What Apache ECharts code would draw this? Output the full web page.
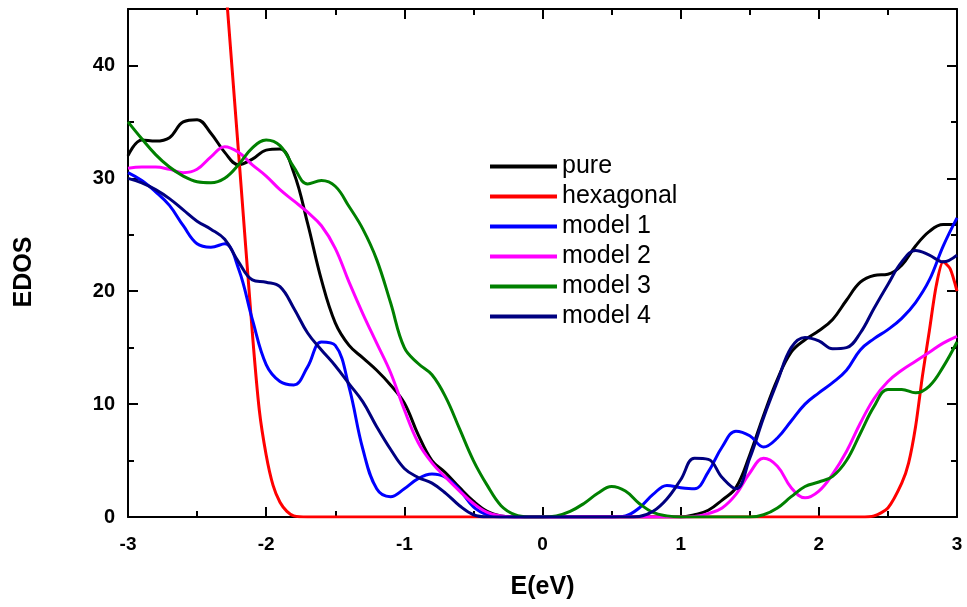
<!DOCTYPE html>
<html>
<head>
<meta charset="utf-8">
<script src="https://cdn.jsdelivr.net/npm/echarts@6/dist/echarts.min.js"></script>
<style>
  html, body { margin: 0; padding: 0; background: #fff; }
  #main { width: 967px; height: 607px; }
</style>
</head>
<body>
<div id="main"></div>
<script>
// energy grid (eV) shared by most curves
var energy = [];
for (var i = -30; i <= 30; i++) energy.push(i / 10);

var pureDos = [32.0,33.4,33.3,33.6,35.0,35.2,34.0,32.3,31.2,31.7,32.5,32.6,30.5,26.0,21.0,17.2,15.2,14.1,13.0,11.7,10.1,7.3,5.0,3.9,2.6,1.4,0.5,0.1,0,0,
  0,0,0,0,0,0,0,0,0,0,0,0.2,0.6,1.5,2.6,5.5,9.0,12.2,14.6,15.7,16.5,17.5,19.2,20.8,21.4,21.5,22.3,24.0,25.3,25.9,25.9];
var model1Dos = [30.5,29.8,28.8,27.6,25.8,24.2,23.9,24.2,22.0,17.5,13.5,12.0,11.7,13.3,15.5,15.2,11.5,6.0,2.5,1.8,2.5,3.4,3.8,3.5,2.4,0.9,0.2,0,0,0,
  0,0,0,0,0,0,0.1,0.8,2.0,2.8,2.6,2.5,4.0,6.2,7.6,7.2,6.2,7.0,8.5,10.0,11.0,11.9,13.0,14.8,15.8,16.6,17.6,19.0,21.0,24.0,26.5];
var model2Dos = [30.9,31.0,31.0,30.8,30.5,30.8,31.9,32.8,32.3,31.2,30.2,29.0,28.0,27.0,25.8,23.8,20.8,18.0,15.4,12.8,9.5,6.6,4.8,3.5,2.3,1.2,0.4,0.1,0,0,
  0,0,0,0,0,0,0,0,0,0,0,0.05,0.3,0.8,2.0,3.9,5.2,4.5,2.6,1.7,2.3,3.8,5.8,8.3,10.5,12.0,13.0,13.8,14.6,15.4,16.0];
var model3Dos = [35.0,33.5,32.1,31.0,30.2,29.7,29.6,30.0,31.2,32.7,33.4,32.9,31.0,29.5,29.8,29.3,27.5,25.5,22.8,19.0,15.0,13.6,12.6,10.6,7.8,5.0,2.8,1.0,0.2,0,
  0,0.1,0.5,1.2,2.1,2.7,2.3,1.2,0.4,0.1,0,0,0,0,0,0,0.2,0.8,1.8,2.7,3.1,3.6,5.0,7.4,9.8,11.3,11.3,11.0,11.6,13.3,15.5];
var model4Dos = [30.0,29.6,29.0,28.2,27.2,26.2,25.5,24.6,22.6,21.0,20.8,20.4,18.5,16.3,14.8,13.4,11.8,10.2,8.0,6.0,4.3,3.5,3.0,2.1,1.0,0.2,0,0,0,0,
  0,0,0,0,0,0,0,0.05,0.5,1.6,3.3,5.2,5.1,3.5,2.5,5.2,8.8,12.0,15.0,15.9,15.6,14.9,15.0,16.3,18.5,20.6,22.6,23.6,23.2,22.6,23.2];

// hexagonal curve has its own finer grid
var hexEnergy = [-3.0,-2.30,-2.20,-2.10,-2.05,-2.00,-1.95,-1.90,-1.85,-1.80,-1.70,0,2.3,2.4,2.5,2.6,2.65,2.7,2.75,2.8,2.85,2.9,2.95,3.0];
var hexDos    = [null,48.2,32.3,16.3,9.5,5.5,2.8,1.3,0.5,0.1,0,0,0,0.1,0.8,3.0,4.8,8.0,12.5,16.5,20.5,22.6,22.0,20.0];

var xTicks = [-3,-2,-1,0,1,2,3];
var yTicks = [0,10,20,30,40];

function pairs(xs, ys) {
  var out = [];
  for (var k = 0; k < xs.length; k++) {
    if (ys[k] !== null) out.push([xs[k], ys[k]]);
  }
  return out;
}

function mkLine(name, color, data, smooth) {
  return {
    name: name,
    type: 'line',
    data: data,
    showSymbol: false,
    symbol: 'none',
    smooth: smooth,
    lineStyle: { color: color, width: 3 },
    itemStyle: { color: color },
    z: 3
  };
}

var chart = echarts.init(document.getElementById('main'));
var font = '"Liberation Sans", Arial, sans-serif';

var axisCommon = {
  axisLine: { show: true, onZero: false, lineStyle: { color: '#000', width: 2 } },
  axisTick: { show: true, inside: true, length: 10, lineStyle: { color: '#000', width: 2 } },
  minorTick: { show: true, splitNumber: 2, length: 6, lineStyle: { color: '#000', width: 2 } },
  splitLine: { show: false }
};

chart.setOption({
  backgroundColor: '#fff',
  animation: false,
  grid: { left: 128, right: 10, top: 9, bottom: 90, containLabel: false },
  legend: {
    orient: 'vertical',
    left: 490,
    top: 154,
    padding: 0,
    icon: 'rect',
    itemWidth: 67,
    itemHeight: 4,
    itemGap: 5,
    textStyle: { fontFamily: font, fontSize: 25, color: '#000' },
    data: ['pure', 'hexagonal', 'model 1', 'model 2', 'model 3', 'model 4']
  },
  xAxis: [
    Object.assign({}, axisCommon, {
      type: 'value', min: -3, max: 3, interval: 1, position: 'bottom',
      name: 'E(eV)', nameLocation: 'middle', nameGap: 58,
      nameTextStyle: { fontFamily: font, fontSize: 25, fontWeight: 'bold', color: '#000' },
      axisLabel: {
        fontFamily: font, fontSize: 19, fontWeight: 'bold', color: '#000', margin: 18,
        formatter: function (v) { return xTicks.indexOf(v) >= 0 ? String(v) : ''; }
      }
    }),
    Object.assign({}, axisCommon, {
      type: 'value', min: -3, max: 3, interval: 1, position: 'top',
      axisLabel: { show: false }
    })
  ],
  yAxis: [
    Object.assign({}, axisCommon, {
      type: 'value', min: 0, max: 45, interval: 10, position: 'left',
      name: 'EDOS', nameLocation: 'middle', nameGap: 91,
      nameTextStyle: { fontFamily: font, fontSize: 25, fontWeight: 'bold', color: '#000', padding: [0, 18, 0, 0] },
      axisLabel: {
        fontFamily: font, fontSize: 20, fontWeight: 'bold', color: '#000', margin: 13,
        formatter: function (v) { return yTicks.indexOf(v) >= 0 ? String(v) : ''; }
      }
    }),
    Object.assign({}, axisCommon, {
      type: 'value', min: 0, max: 45, interval: 10, position: 'right',
      axisLabel: { show: false }
    })
  ],
  series: [
    mkLine('pure', '#000000', pairs(energy, pureDos), 0.4),
    mkLine('hexagonal', '#ff0000', pairs(hexEnergy, hexDos), 0.25),
    mkLine('model 1', '#0000ff', pairs(energy, model1Dos), 0.4),
    mkLine('model 2', '#ff00ff', pairs(energy, model2Dos), 0.4),
    mkLine('model 3', '#008000', pairs(energy, model3Dos), 0.4),
    mkLine('model 4', '#000080', pairs(energy, model4Dos), 0.4)
  ]
});
</script>
</body>
</html>
